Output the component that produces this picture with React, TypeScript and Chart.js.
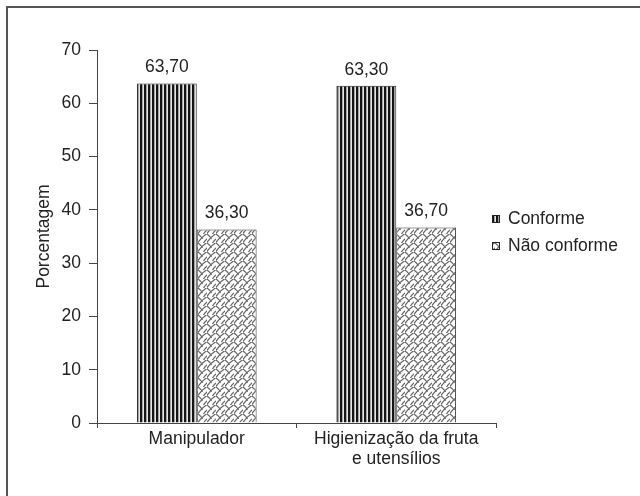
import React, { useEffect, useRef } from "react";
import { Chart, registerables } from "chart.js";

Chart.register(...registerables);

const categories: string[][] = [["Manipulador"], ["Higienização da fruta", "e utensílios"]];
const seriesNames = ["Conforme", "Não conforme"];
const conforme = [63.7, 63.3];
const naoConforme = [36.3, 36.7];
const yMin = 0;
const yMax = 70;
const yStep = 10;
const yTitle = "Porcentagem";

const FONT = "'Liberation Sans', Arial, Helvetica, sans-serif";
const FS = 17.5;
const TEXT = "#222";
const LINE = "#444";

function stripePattern(ctx: CanvasRenderingContext2D): CanvasPattern | string {
  const c = document.createElement("canvas");
  c.width = 4;
  c.height = 4;
  const g = c.getContext("2d")!;
  g.fillStyle = "#e6e6e6";
  g.fillRect(0, 0, 4, 4);
  g.fillStyle = "#141414";
  g.fillRect(0, 0, 2, 4);
  g.fillStyle = "#666";
  g.fillRect(2, 0, 0.5, 4);
  return ctx.createPattern(c, "repeat") || "#777";
}

function hatchPattern(ctx: CanvasRenderingContext2D): CanvasPattern | string {
  const c = document.createElement("canvas");
  c.width = 9;
  c.height = 9;
  const g = c.getContext("2d")!;
  g.fillStyle = "#ffffff";
  g.fillRect(0, 0, 9, 9);
  g.strokeStyle = "#666";
  g.lineWidth = 1.2;
  g.beginPath();
  g.moveTo(-1, 10);
  g.quadraticCurveTo(3, 3, 10, -1);
  g.stroke();
  g.beginPath();
  g.moveTo(0, 0);
  g.quadraticCurveTo(3, 2, 4.5, 5);
  g.stroke();
  g.beginPath();
  g.moveTo(5, 10);
  g.quadraticCurveTo(7, 6, 10, 4.5);
  g.stroke();
  return ctx.createPattern(c, "repeat") || "#aaa";
}

const fmt = (v: number) => v.toFixed(2).replace(".", ",");

const valueLabels = {
  id: "valueLabels",
  afterDatasetsDraw(chart: any) {
    const ctx = chart.ctx;
    ctx.save();
    ctx.font = `${FS}px ${FONT}`;
    ctx.fillStyle = TEXT;
    ctx.textAlign = "center";
    ctx.textBaseline = "middle";
    chart.data.datasets.forEach((ds: any, i: number) => {
      const meta = chart.getDatasetMeta(i);
      meta.data.forEach((el: any, j: number) => {
        ctx.fillText(fmt(ds.data[j]), el.x, el.y - 16);
      });
    });
    ctx.restore();
  },
};

const sideLegend = {
  id: "sideLegend",
  afterDraw(chart: any) {
    const ctx = chart.ctx;
    const area = chart.chartArea;
    const boxX = area.right - 4;
    const rows = [219, 246];
    ctx.save();
    ctx.font = `${FS}px ${FONT}`;
    ctx.textBaseline = "middle";
    ctx.textAlign = "left";
    chart.data.datasets.forEach((ds: any, i: number) => {
      const y = rows[i];
      ctx.fillStyle = ds.backgroundColor;
      ctx.fillRect(boxX, y - 4, 8, 8);
      ctx.strokeStyle = "#222";
      ctx.lineWidth = 1;
      ctx.strokeRect(boxX + 0.5, y - 3.5, 7, 7);
      ctx.fillStyle = TEXT;
      ctx.fillText(ds.label, boxX + 16, y);
    });
    ctx.restore();
  },
};

export default function App() {
  const ref = useRef<HTMLCanvasElement | null>(null);

  useEffect(() => {
    const canvas = ref.current;
    if (!canvas) return;
    const ctx = canvas.getContext("2d")!;
    const chart = new Chart(canvas, {
      type: "bar",
      data: {
        labels: categories,
        datasets: [
          {
            label: seriesNames[0],
            data: conforme,
            backgroundColor: stripePattern(ctx) as any,
            borderColor: "#222",
            borderWidth: 1,
          },
          {
            label: seriesNames[1],
            data: naoConforme,
            backgroundColor: hatchPattern(ctx) as any,
            borderColor: "#333",
            borderWidth: 1,
          },
        ],
      },
      options: {
        responsive: false,
        animation: false,
        devicePixelRatio: 1,
        layout: { padding: { left: 30, top: 50, right: 144, bottom: 23 } },
        datasets: { bar: { barPercentage: 1, categoryPercentage: 0.6 } },
        plugins: {
          legend: { display: false },
          tooltip: { enabled: false },
        },
        scales: {
          x: {
            offset: true,
            grid: {
              display: true,
              offset: true,
              drawOnChartArea: false,
              drawTicks: true,
              tickLength: 5,
              color: LINE,
            },
            border: { display: true, color: LINE, width: 1 },
            ticks: {
              color: TEXT,
              padding: 1,
              maxRotation: 0,
              font: { family: FONT, size: FS, lineHeight: 1.15 },
            },
            afterFit: (s: any) => {
              s.height = 50;
            },
          },
          y: {
            min: yMin,
            max: yMax,
            ticks: {
              stepSize: yStep,
              color: TEXT,
              padding: 8,
              font: { family: FONT, size: FS },
            },
            grid: {
              display: true,
              drawOnChartArea: false,
              drawTicks: true,
              tickLength: 8,
              color: LINE,
            },
            border: { display: true, color: LINE, width: 1 },
            title: {
              display: true,
              text: yTitle,
              color: TEXT,
              font: { family: FONT, size: FS },
            },
            afterFit: (s: any) => {
              s.width = 67;
            },
          },
        },
      },
      plugins: [valueLabels, sideLegend],
    });
    return () => chart.destroy();
  }, []);

  return (
    <div
      style={{
        position: "fixed",
        left: 0,
        top: 0,
        width: 640,
        height: 496,
        background: "#fff",
        overflow: "hidden",
      }}
    >
      <canvas ref={ref} width={640} height={496} style={{ position: "absolute", left: 0, top: 0 }} />
      <div
        style={{
          position: "absolute",
          left: 6,
          top: 6,
          width: 700,
          height: 600,
          borderLeft: "2px solid #555",
          borderTop: "2px solid #555",
          pointerEvents: "none",
        }}
      />
    </div>
  );
}
